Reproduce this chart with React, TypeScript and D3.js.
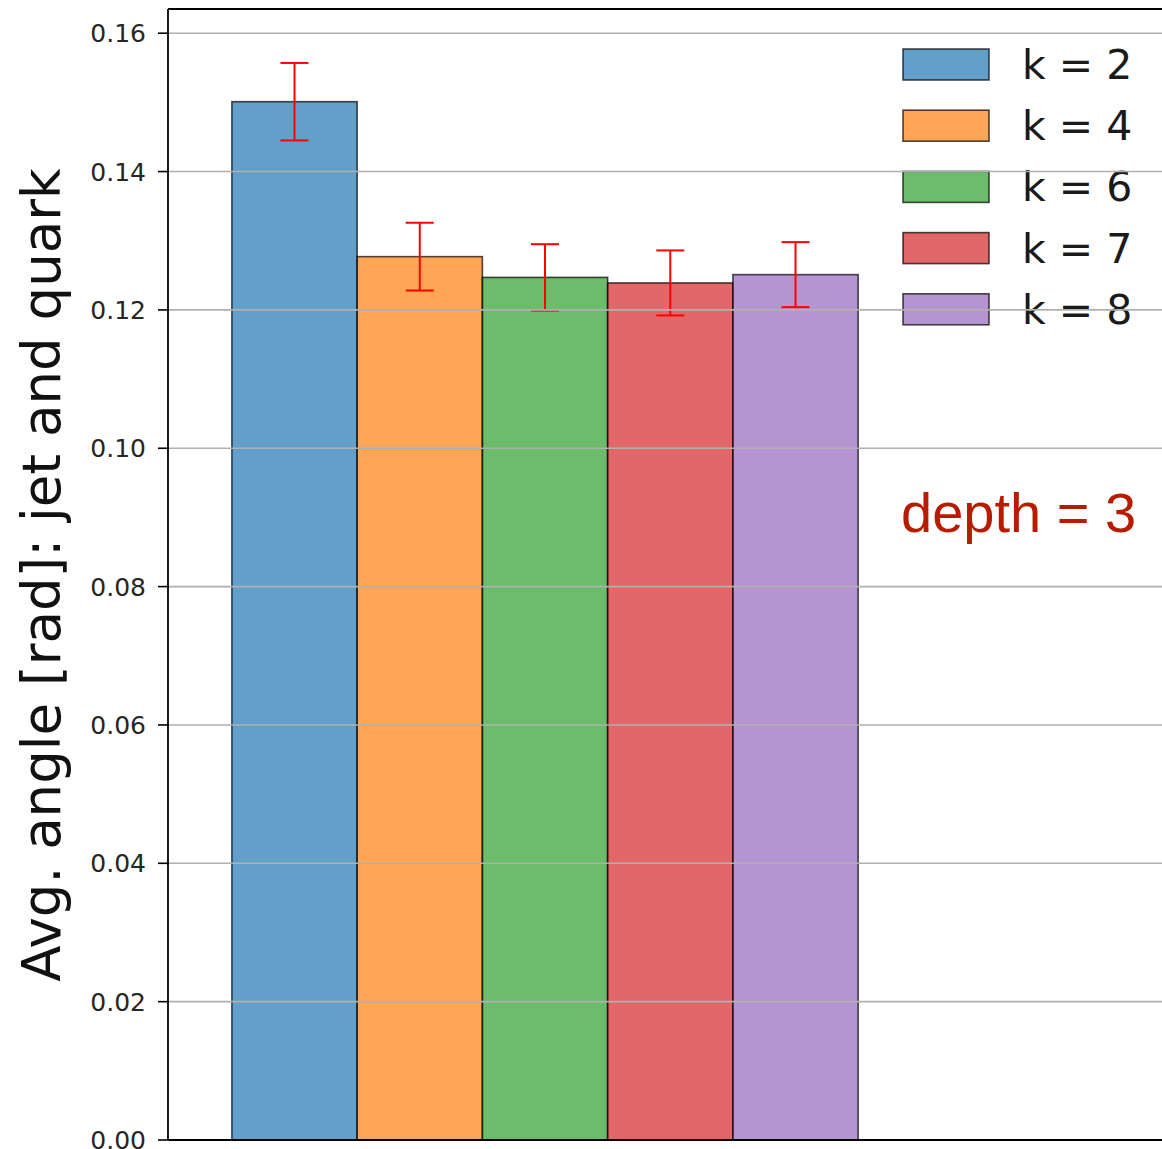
import * as d3 from "d3";
import { useEffect } from "react";

const labels = ["k = 2", "k = 4", "k = 6", "k = 7", "k = 8"];
const values = [0.1501, 0.1277, 0.1247, 0.1239, 0.1251];
const errors = [0.0056, 0.0049, 0.0048, 0.0047, 0.0047];
const colors = ["#1f77b4", "#ff7f0e", "#2ca02c", "#d62728", "#9467bd"];
const yTicks = [0, 0.02, 0.04, 0.06, 0.08, 0.1, 0.12, 0.14, 0.16];

const W = 1162;
const H = 1149;
const left = 168;
const top = 9;
const bottom = 1140;

const App = () => {
  useEffect(() => {
    document.body.style.margin = "0";
  }, []);

  const x = d3.scaleLinear().domain([-1.01, 6.926]).range([left, W]);
  const y = d3.scaleLinear().domain([0, 0.1635]).range([bottom, top]);
  const bw = x(1) - x(0);
  const cap = 14;

  // legend layout
  const lgX = 903;
  const lgY = 64.5;
  const lgStep = 61.2;

  return (
    <svg width={W} height={H} style={{ display: "block", background: "#fff" }}>
      {/* bars */}
      {values.map((v, i) => (
        <rect
          key={"b" + i}
          x={x(i) - bw / 2}
          y={y(v)}
          width={bw}
          height={y(0) - y(v)}
          fill={colors[i]}
          fillOpacity={0.7}
          stroke="#000"
          strokeOpacity={0.7}
          strokeWidth={1.6}
        />
      ))}

      {/* error bars */}
      {values.map((v, i) => (
        <g key={"e" + i} stroke="#ff0000" strokeWidth={2}>
          <line x1={x(i)} x2={x(i)} y1={y(v + errors[i])} y2={y(v - errors[i])} />
          <line x1={x(i) - cap} x2={x(i) + cap} y1={y(v + errors[i])} y2={y(v + errors[i])} />
          <line x1={x(i) - cap} x2={x(i) + cap} y1={y(v - errors[i])} y2={y(v - errors[i])} />
        </g>
      ))}

      {/* legend */}
      {labels.map((l, i) => (
        <g key={"l" + i} transform={`translate(${lgX},${lgY + i * lgStep})`}>
          <rect
            x={0}
            y={-15.5}
            width={86}
            height={31}
            fill={colors[i]}
            fillOpacity={0.7}
            stroke="#000"
            strokeOpacity={0.7}
            strokeWidth={1.6}
          />
          <text
            x={119}
            y={14.5}
            fontFamily="DejaVu Sans"
            fontSize={41}
            fill="#1a1a1a"
          >
            {l}
          </text>
        </g>
      ))}

      {/* grid lines drawn over bars */}
      {yTicks.filter(t => t > 0).map(t => (
        <line
          key={"g" + t}
          x1={left}
          x2={W}
          y1={y(t)}
          y2={y(t)}
          stroke="#b0b0b0"
          strokeWidth={1.6}
        />
      ))}

      {/* y ticks */}
      {yTicks.map(t => (
        <g key={"t" + t}>
          <line x1={left - 10} x2={left} y1={y(t)} y2={y(t)} stroke="#000" strokeWidth={1.6} />
          <text
            x={left - 22}
            y={y(t)}
            dy="0.36em"
            textAnchor="end"
            fontFamily="DejaVu Sans"
            fontSize={25}
            fill="#262626"
          >
            {d3.format(".2f")(t)}
          </text>
        </g>
      ))}

      {/* spines */}
      <line x1={left} x2={left} y1={top} y2={bottom} stroke="#000" strokeWidth={1.8} />
      <line x1={left} x2={W} y1={top} y2={top} stroke="#000" strokeWidth={1.8} />
      <line x1={left} x2={W} y1={bottom} y2={bottom} stroke="#000" strokeWidth={1.8} />

      {/* y label */}
      <text
        transform={`translate(60,575) rotate(-90)`}
        textAnchor="middle"
        fontFamily="DejaVu Sans"
        fontSize={53}
        fill="#111"
      >
        Avg. angle [rad]: jet and quark
      </text>

      {/* annotation */}
      <text
        x={901}
        y={532}
        fontFamily="Liberation Sans, Arial, sans-serif"
        fontSize={56}
        fill="#b81c00"
      >
        depth = 3
      </text>
    </svg>
  );
};

export default App;
